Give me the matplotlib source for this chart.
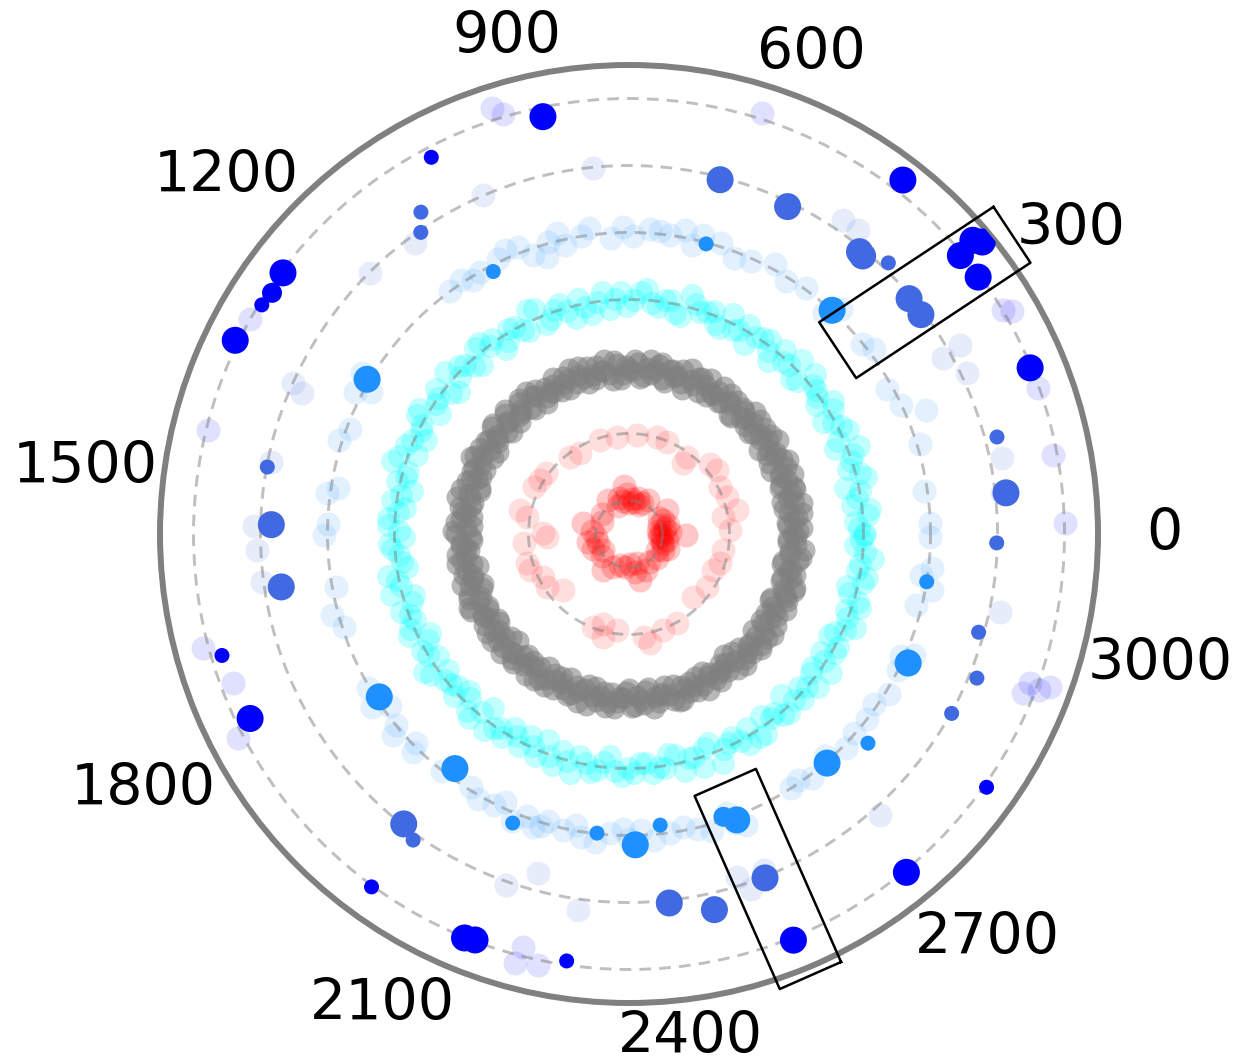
import matplotlib
matplotlib.use("Agg")
import matplotlib.pyplot as plt
import numpy as np

PERIOD = 3120  # length of the circular position axis
R_MAX = 7.0

tick_values = [0, 300, 600, 900, 1200, 1500, 1800, 2100, 2400, 2700, 3000]
ring_levels = [0.5, 1.5, 2.5, 3.5, 4.5, 5.5, 6.5]

# --- level 0.5 (red, inner) ---
red_inner_pos = [5, 25, 30, 55, 80, 110, 140, 190, 240, 285,
                 520, 580, 620, 660, 700, 740, 780, 800, 830, 870,
                 910, 960, 1050, 1250, 1350, 1443, 1520, 1600, 1660, 1700,
                 1760, 1830, 1900, 2030, 2120, 2200, 2280, 2360, 2420, 2457,
                 2480, 2560, 2650, 2760, 2860, 2905, 2940, 2980, 3010, 3040,
                 3070, 3095, 3112]
red_inner_r = [0.47, 0.62, 0.52, 0.44, 0.55, 0.60, 0.46, 0.55, 0.50, 0.67,
               0.58, 0.50, 0.45, 0.55, 0.48, 0.52, 0.47, 0.60, 0.72, 0.50,
               0.55, 0.45, 0.60, 0.50, 0.45, 0.70, 0.55, 0.50, 0.62, 0.48,
               0.58, 0.45, 0.52, 0.66, 0.55, 0.48, 0.50, 0.45, 0.58, 0.70,
               0.45, 0.60, 0.52, 0.55, 0.48, 0.56, 0.62, 0.53, 0.50, 0.58,
               0.45, 0.50, 0.85]

# --- level 1.5 (red, outer) ---
red_outer_pos = [20, 90, 109, 181, 238, 313, 356, 454, 462, 588,
                 642, 742, 842, 928, 1051, 1103, 1245, 1290, 1332, 1453,
                 1477, 1556, 1577, 1604, 1699, 1733, 1790, 1843, 1911, 2158,
                 2201, 2219, 2277, 2410, 2434, 2511, 2583, 2737, 2825, 2920,
                 2965, 3037]
red_outer_r = [1.51, 1.43, 1.65, 1.56, 1.53, 1.62, 1.60, 1.33, 1.44, 1.49,
               1.51, 1.48, 1.46, 1.47, 1.41, 1.45, 1.53, 1.55, 1.59, 1.67,
               1.55, 1.28, 1.22, 1.58, 1.59, 1.57, 1.43, 1.46, 1.29, 1.48,
               1.39, 1.58, 1.44, 1.55, 1.66, 1.52, 1.51, 1.34, 1.40, 1.37,
               1.43, 1.43]

# --- level 2.5 (gray), two passes around the circle ---
gray_pos = [0, 16, 35, 51, 69, 87, 103, 122, 139, 155,
            174, 191, 207, 226, 243, 259, 278, 295, 311, 330,
            347, 363, 382, 399, 415, 434, 451, 467, 486, 503,
            519, 538, 555, 571, 590, 607, 623, 642, 659, 675,
            694, 711, 727, 746, 763, 779, 798, 815, 831, 850,
            867, 883, 902, 919, 935, 954, 971, 987, 1006, 1023,
            1039, 1058, 1075, 1091, 1110, 1127, 1143, 1162, 1179, 1195,
            1214, 1231, 1247, 1266, 1283, 1299, 1318, 1335, 1351, 1370,
            1387, 1403, 1422, 1439, 1455, 1474, 1491, 1507, 1526, 1543,
            1559, 1578, 1595, 1611, 1630, 1647, 1663, 1682, 1699, 1715,
            1734, 1751, 1767, 1786, 1803, 1819, 1838, 1855, 1871, 1890,
            1907, 1923, 1942, 1959, 1975, 1994, 2011, 2027, 2046, 2063,
            2079, 2098, 2115, 2131, 2150, 2167, 2183, 2202, 2219, 2235,
            2254, 2271, 2287, 2306, 2323, 2339, 2358, 2375, 2391, 2410,
            2427, 2443, 2462, 2479, 2495, 2514, 2531, 2547, 2566, 2583,
            2599, 2618, 2635, 2651, 2670, 2687, 2703, 2722, 2739, 2755,
            2774, 2791, 2807, 2826, 2843, 2859, 2878, 2895, 2911, 2930,
            2947, 2963, 2982, 2999, 3015, 3034, 3051, 3067, 3086, 3103]
gray_r = [2.45, 2.58, 2.36, 2.52, 2.41, 2.62, 2.33, 2.49, 2.56, 2.39,
          2.60, 2.44, 2.31, 2.54, 2.47, 2.37, 2.63, 2.50, 2.42, 2.57,
          2.34, 2.48, 2.61, 2.40, 2.53, 2.32, 2.46, 2.59, 2.38, 2.51,
          2.43, 2.62, 2.35, 2.55, 2.48, 2.30, 2.58, 2.44, 2.52, 2.37,
          2.56, 2.41, 2.49, 2.33, 2.60, 2.46, 2.39, 2.54, 2.31, 2.63,
          2.47, 2.36, 2.57, 2.43, 2.50, 2.62, 2.34, 2.45, 2.59, 2.40,
          2.52, 2.31, 2.48, 2.61, 2.38, 2.55, 2.42, 2.33, 2.58, 2.46,
          2.37, 2.60, 2.44, 2.51, 2.30, 2.57, 2.49, 2.63, 2.35, 2.53,
          2.41, 2.55, 2.32, 2.47, 2.62, 2.39, 2.50, 2.36, 2.59, 2.44,
          2.58, 2.34, 2.52, 2.40, 2.46, 2.61, 2.31, 2.54, 2.43, 2.49,
          2.33, 2.57, 2.45, 2.62, 2.38, 2.50, 2.56, 2.35, 2.48, 2.60,
          2.42, 2.53, 2.30, 2.47, 2.59, 2.36, 2.44, 2.61, 2.39, 2.55,
          2.50, 2.37, 2.58, 2.43, 2.32, 2.54, 2.47, 2.40, 2.63, 2.34,
          2.46, 2.60, 2.39, 2.52, 2.45, 2.31, 2.57, 2.49, 2.36, 2.62,
          2.54, 2.42, 2.48, 2.35, 2.61, 2.44, 2.38, 2.56, 2.51, 2.33,
          2.40, 2.59, 2.45, 2.53, 2.30, 2.47, 2.62, 2.37, 2.55, 2.43,
          2.57, 2.34, 2.50, 2.41, 2.58, 2.36, 2.46, 2.60, 2.32, 2.52,
          2.44, 2.61, 2.38, 2.55, 2.48, 2.33, 2.59, 2.42, 2.50, 2.37]
gray_pos_b = [8, 26, 43, 60, 78, 95, 112, 130, 147, 164,
              182, 199, 216, 234, 251, 268, 286, 303, 320, 338,
              355, 372, 390, 407, 424, 442, 459, 476, 494, 511,
              528, 546, 563, 580, 598, 615, 632, 650, 667, 684,
              702, 719, 736, 754, 771, 788, 806, 823, 840, 858,
              875, 892, 910, 927, 944, 962, 979, 996, 1014, 1031,
              1048, 1066, 1083, 1100, 1118, 1135, 1152, 1170, 1187, 1204,
              1222, 1239, 1256, 1274, 1291, 1308, 1326, 1343, 1360, 1378,
              1395, 1412, 1430, 1447, 1464, 1482, 1499, 1516, 1534, 1551,
              1568, 1586, 1603, 1620, 1638, 1655, 1672, 1690, 1707, 1724,
              1742, 1759, 1776, 1794, 1811, 1828, 1846, 1863, 1880, 1898,
              1915, 1932, 1950, 1967, 1984, 2002, 2019, 2036, 2054, 2071,
              2088, 2106, 2123, 2140, 2158, 2175, 2192, 2210, 2227, 2244,
              2262, 2279, 2296, 2314, 2331, 2348, 2366, 2383, 2400, 2418,
              2435, 2452, 2470, 2487, 2504, 2522, 2539, 2556, 2574, 2591,
              2608, 2626, 2643, 2660, 2678, 2695, 2712, 2730, 2747, 2764,
              2782, 2799, 2816, 2834, 2851, 2868, 2886, 2903, 2920, 2938,
              2955, 2972, 2990, 3007, 3024, 3042, 3059, 3076, 3094, 3111]
gray_r_b = [2.53, 2.38, 2.47, 2.60, 2.34, 2.51, 2.43, 2.57, 2.36, 2.49,
            2.41, 2.55, 2.62, 2.35, 2.50, 2.44, 2.31, 2.58, 2.46, 2.39,
            2.59, 2.37, 2.45, 2.52, 2.31, 2.56, 2.48, 2.40, 2.61, 2.43,
            2.35, 2.50, 2.57, 2.42, 2.63, 2.39, 2.46, 2.53, 2.33, 2.60,
            2.48, 2.62, 2.37, 2.55, 2.44, 2.51, 2.32, 2.59, 2.41, 2.47,
            2.56, 2.43, 2.33, 2.61, 2.39, 2.48, 2.54, 2.36, 2.50, 2.42,
            2.38, 2.57, 2.52, 2.34, 2.60, 2.45, 2.40, 2.62, 2.47, 2.31,
            2.61, 2.46, 2.39, 2.55, 2.42, 2.33, 2.58, 2.44, 2.51, 2.36,
            2.49, 2.32, 2.60, 2.43, 2.37, 2.56, 2.45, 2.52, 2.34, 2.62,
            2.36, 2.51, 2.44, 2.59, 2.53, 2.38, 2.48, 2.41, 2.61, 2.30,
            2.55, 2.40, 2.63, 2.37, 2.49, 2.44, 2.33, 2.58, 2.42, 2.51,
            2.34, 2.61, 2.49, 2.56, 2.41, 2.52, 2.38, 2.45, 2.59, 2.32,
            2.60, 2.44, 2.35, 2.51, 2.57, 2.40, 2.62, 2.33, 2.48, 2.54,
            2.39, 2.53, 2.61, 2.44, 2.36, 2.58, 2.42, 2.55, 2.31, 2.47,
            2.45, 2.33, 2.57, 2.60, 2.40, 2.52, 2.47, 2.35, 2.62, 2.43,
            2.52, 2.47, 2.36, 2.41, 2.59, 2.34, 2.55, 2.50, 2.44, 2.61,
            2.43, 2.58, 2.62, 2.35, 2.46, 2.53, 2.39, 2.32, 2.57, 2.48,
            2.60, 2.37, 2.51, 2.44, 2.33, 2.56, 2.42, 2.62, 2.38, 2.49]

# --- level 3.5 (cyan), two passes around the circle ---
cyan_pos = [0, 27, 51, 78, 104, 129, 157, 182, 208, 235,
            260, 287, 313, 338, 366, 391, 417, 444, 469, 496,
            522, 547, 575, 600, 626, 653, 678, 705, 731, 756,
            784, 809, 835, 862, 887, 914, 940, 965, 993, 1018,
            1044, 1071, 1096, 1123, 1149, 1174, 1202, 1227, 1253, 1280,
            1305, 1332, 1358, 1383, 1411, 1436, 1462, 1489, 1514, 1541,
            1567, 1592, 1620, 1645, 1671, 1698, 1723, 1750, 1776, 1801,
            1829, 1854, 1880, 1907, 1932, 1959, 1985, 2010, 2038, 2063,
            2089, 2116, 2141, 2168, 2194, 2219, 2247, 2272, 2298, 2325,
            2350, 2377, 2403, 2428, 2456, 2481, 2507, 2534, 2559, 2586,
            2612, 2637, 2665, 2690, 2716, 2743, 2768, 2795, 2821, 2846,
            2874, 2899, 2925, 2952, 2977, 3004, 3030, 3055, 3083, 3108]
cyan_r = [3.52, 3.38, 3.61, 3.45, 3.30, 3.57, 3.49, 3.68, 3.41, 3.55,
          3.34, 3.63, 3.47, 3.53, 3.39, 3.66, 3.44, 3.31, 3.58, 3.50,
          3.60, 3.42, 3.35, 3.56, 3.48, 3.69, 3.37, 3.54, 3.46, 3.62,
          3.40, 3.51, 3.64, 3.33, 3.59, 3.45, 3.52, 3.36, 3.67, 3.43,
          3.55, 3.32, 3.48, 3.61, 3.41, 3.57, 3.66, 3.39, 3.50, 3.34,
          3.63, 3.46, 3.53, 3.38, 3.70, 3.44, 3.31, 3.58, 3.47, 3.60,
          3.36, 3.54, 3.42, 3.65, 3.49, 3.33, 3.59, 3.45, 3.62, 3.40,
          3.51, 3.68, 3.37, 3.47, 3.56, 3.41, 3.64, 3.30, 3.53, 3.58,
          3.44, 3.35, 3.60, 3.52, 3.39, 3.67, 3.48, 3.55, 3.32, 3.61,
          3.57, 3.43, 3.50, 3.34, 3.63, 3.46, 3.38, 3.69, 3.45, 3.52,
          3.39, 3.62, 3.47, 3.55, 3.31, 3.58, 3.50, 3.42, 3.66, 3.36,
          3.54, 3.40, 3.65, 3.44, 3.57, 3.35, 3.61, 3.48, 3.53, 3.46]
cyan_pos_b = [13, 40, 65, 91, 117, 143, 170, 195, 221, 248,
              273, 300, 326, 352, 378, 404, 430, 457, 482, 509,
              535, 561, 588, 613, 639, 666, 691, 718, 744, 770,
              797, 822, 848, 875, 900, 927, 953, 979, 1006, 1031,
              1057, 1084, 1110, 1136, 1162, 1188, 1215, 1240, 1266, 1293,
              1318, 1345, 1371, 1397, 1424, 1449, 1475, 1502, 1527, 1554,
              1580, 1606, 1633, 1658, 1684, 1711, 1736, 1763, 1789, 1815,
              1842, 1867, 1893, 1920, 1945, 1972, 1998, 2024, 2051, 2076,
              2102, 2129, 2154, 2181, 2207, 2233, 2260, 2285, 2311, 2338,
              2363, 2390, 2416, 2442, 2469, 2494, 2520, 2547, 2572, 2599,
              2625, 2651, 2678, 2703, 2729, 2756, 2781, 2808, 2834, 2860,
              2887, 2912, 2938, 2965, 2990, 3017, 3043, 3069, 3096, 3118]
cyan_r_b = [3.44, 3.58, 3.36, 3.50, 3.64, 3.41, 3.55, 3.33, 3.62, 3.47,
            3.57, 3.40, 3.52, 3.66, 3.35, 3.48, 3.60, 3.43, 3.54, 3.31,
            3.46, 3.63, 3.39, 3.51, 3.58, 3.34, 3.55, 3.42, 3.67, 3.49,
            3.61, 3.37, 3.50, 3.45, 3.32, 3.59, 3.41, 3.64, 3.38, 3.53,
            3.40, 3.56, 3.63, 3.35, 3.52, 3.44, 3.31, 3.60, 3.47, 3.65,
            3.49, 3.33, 3.58, 3.62, 3.42, 3.55, 3.46, 3.37, 3.61, 3.43,
            3.59, 3.45, 3.35, 3.53, 3.66, 3.40, 3.48, 3.57, 3.32, 3.54,
            3.38, 3.62, 3.50, 3.41, 3.34, 3.58, 3.45, 3.63, 3.47, 3.36,
            3.56, 3.48, 3.31, 3.64, 3.52, 3.39, 3.60, 3.43, 3.55, 3.49,
            3.42, 3.59, 3.53, 3.37, 3.46, 3.65, 3.33, 3.51, 3.40, 3.62,
            3.61, 3.36, 3.44, 3.58, 3.50, 3.41, 3.63, 3.38, 3.47, 3.55,
            3.35, 3.53, 3.49, 3.62, 3.40, 3.57, 3.44, 3.66, 3.37, 3.51]

# --- level 4.5 (dodgerblue) ---
dodger_bg_pos = [18, 72, 148, 196, 220, 255, 321, 340, 405, 420,
                 470, 504, 534, 571, 628, 660, 674, 712, 746, 774,
                 790, 860, 888, 896, 923, 963, 1000, 1037, 1053, 1095,
                 1290, 1310, 1323, 1382, 1404, 1482, 1493, 1543, 1562, 1648,
                 1692, 1716, 1825, 1855, 1870, 1901, 1910, 1946, 1953, 2008,
                 2063, 2082, 2148, 2168, 2182, 2203, 2231, 2262, 2309, 2340,
                 2360, 2408, 2453, 2508, 2515, 2530, 2622, 2639, 2700, 2733,
                 2791, 2819, 2846, 2887, 2910, 2920, 2999, 3030, 3050, 3064,
                 600, 690, 730, 810, 845, 915, 945, 985, 1070, 2110,
                 2125, 2195, 2250, 2285, 2330, 2380, 2430, 2475, 2660, 2760,
                 3115]
dodger_bg_r = [4.50, 4.45, 4.55, 4.80, 4.50, 4.42, 4.58, 4.48, 4.62, 4.40,
               4.52, 4.45, 4.58, 4.47, 4.55, 4.60, 4.42, 4.50, 4.56, 4.45,
               4.58, 4.50, 4.42, 4.62, 4.31, 4.59, 4.55, 4.50, 4.45, 4.50,
               4.65, 4.40, 4.60, 4.45, 4.55, 4.40, 4.55, 4.50, 4.55, 4.45,
               4.60, 4.48, 4.52, 4.62, 4.40, 4.50, 4.62, 4.45, 4.58, 4.50,
               4.45, 4.55, 4.62, 4.48, 4.60, 4.45, 4.52, 4.58, 4.47, 4.55,
               4.42, 4.50, 4.52, 4.42, 4.60, 4.68, 4.50, 4.45, 4.42, 4.55,
               4.50, 4.45, 4.55, 4.50, 4.45, 4.62, 4.42, 4.60, 4.40, 4.55,
               4.40, 4.62, 4.55, 4.42, 4.60, 4.52, 4.40, 4.62, 4.55, 4.52,
               4.40, 4.55, 4.42, 4.62, 4.40, 4.58, 4.45, 4.60, 4.55, 4.48,
               4.50]
dodger_pos = [414, 651, 1017, 1295, 1847, 2023, 2150, 2287, 2350, 2393,
              2500, 2519, 2694, 2763, 2905, 3041]
dodger_r = [4.51, 4.48, 4.41, 4.54, 4.45, 4.36, 4.65, 4.49, 4.64, 4.37,
            4.45, 4.56, 4.52, 4.74, 4.59, 4.50]
dodger_w = [3, 1, 1, 3, 3, 3, 1, 1, 3, 1,
            2, 3, 3, 1, 3, 1]

# --- level 5.5 (royalblue) ---
royal_bg_pos = [54, 100, 221, 254, 257, 459, 483, 829, 982, 1095,
                1168, 1350, 1358, 1461, 1550, 1582, 1625, 2173, 2210, 2273,
                2491, 2505, 2530, 2702, 3017]
royal_bg_r = [5.60, 5.68, 5.59, 5.37, 5.69, 5.68, 5.67, 5.49, 5.51, 5.39,
              5.49, 5.50, 5.31, 5.45, 5.60, 5.56, 5.52, 5.55, 5.24, 5.66,
              5.37, 5.60, 5.40, 5.62, 5.66]
royal_pos = [54, 128, 320, 347, 401, 433, 440, 556, 655, 1065,
             1080, 1469, 1547, 1635, 2012, 2035, 2394, 2451, 2527, 2868,
             2925, 2984, 3108]
royal_r = [5.66, 5.68, 5.45, 5.46, 5.60, 5.42, 5.44, 5.43, 5.46, 5.72,
           5.47, 5.49, 5.34, 5.25, 5.48, 5.59, 5.54, 5.75, 5.52, 5.51,
           5.62, 5.42, 5.49]
royal_w = [3, 1, 3, 3, 1, 3, 3, 3, 3, 1,
           1, 1, 3, 3, 3, 1, 3, 3, 3, 1,
           1, 1, 1]

# --- level 6.5 (blue) ---
blue_bg_pos = [12, 91, 170, 262, 268, 628, 925, 934, 1304, 1440,
               1690, 1739, 1799, 2211, 2215, 2237, 2929, 2940, 2943, 2947]
blue_bg_r = [6.51, 6.44, 6.48, 6.62, 6.50, 6.59, 6.55, 6.68, 6.50, 6.47,
             6.58, 6.32, 6.58, 6.62, 6.36, 6.57, 6.34, 6.55, 6.39, 6.69]
blue_pos = [195, 315, 343, 347, 351, 453, 881, 1020, 1239, 1265,
            1283, 1333, 1704, 1785, 2027, 2148, 2160, 2268, 2531, 2681,
            2814]
blue_r = [6.48, 6.47, 6.84, 6.46, 6.75, 6.68, 6.36, 6.35, 6.47, 6.43,
          6.46, 6.55, 6.34, 6.29, 6.52, 6.51, 6.48, 6.44, 6.54, 6.53,
          6.54]
blue_w = [3, 3, 3, 3, 3, 3, 3, 1, 3, 2,
          1, 3, 1, 3, 1, 3, 3, 1, 3, 3,
          1]

# highlighted regions: centre position, centre radius, length, width, tilt (deg)
highlight_boxes = [(340, 5.70, 3.12, 1.0, 33.5),
                   (2530, 5.55, 3.15, 1.0, -66.2)]

# radius at which each theta label sits (labels fan out a bit sideways)
label_r = [7.99, 8.01, 7.67, 7.63, 8.04, 8.18, 8.19, 7.93, 7.57, 8.06, 8.16]


def to_theta(pos):
    return 2 * np.pi * np.asarray(pos, dtype=float) / PERIOD


def pt2(px):
    # marker diameter in pixels -> scatter size in points^2 (dpi 100)
    return (px * 72.0 / 100.0) ** 2


size_px = {1: 15, 2: 20, 3: 27}

fig = plt.figure(figsize=(12.42, 10.64), dpi=100)
ax = fig.add_axes([160 / 1242, 61 / 1064, 938 / 1242, 938 / 1064],
                  projection="polar")

# background rings
ax.scatter(to_theta(red_outer_pos), red_outer_r, s=pt2(24), c="red",
           alpha=0.13, linewidths=0, zorder=1)
ax.scatter(to_theta(red_inner_pos), red_inner_r, s=pt2(24), c="red",
           alpha=0.22, linewidths=0, zorder=1)
ax.scatter(to_theta(gray_pos + gray_pos_b), gray_r + gray_r_b, s=pt2(22),
           c="gray", alpha=0.56, linewidths=0, zorder=1)
ax.scatter(to_theta(cyan_pos + cyan_pos_b), cyan_r + cyan_r_b, s=pt2(23),
           c="cyan", alpha=0.24, linewidths=0, zorder=1)
ax.scatter(to_theta(dodger_bg_pos), dodger_bg_r, s=pt2(24), c="dodgerblue",
           alpha=0.12, linewidths=0, zorder=1)
ax.scatter(to_theta(royal_bg_pos), royal_bg_r, s=pt2(24), c="royalblue",
           alpha=0.12, linewidths=0, zorder=1)
ax.scatter(to_theta(blue_bg_pos), blue_bg_r, s=pt2(24), c="blue",
           alpha=0.12, linewidths=0, zorder=1)

# solid hits
for pos, rr, w, col in [(dodger_pos, dodger_r, dodger_w, "dodgerblue"),
                        (royal_pos, royal_r, royal_w, "royalblue"),
                        (blue_pos, blue_r, blue_w, "blue")]:
    ax.scatter(to_theta(pos), rr, s=[pt2(size_px[k]) for k in w], c=col,
               linewidths=0, zorder=3)

# highlight boxes (straight-edged, drawn through data coords)
for pos, rc, length, width, tilt in highlight_boxes:
    t = to_theta(pos)
    c = np.array([rc * np.cos(t), rc * np.sin(t)])
    a = np.deg2rad(tilt)
    u = np.array([np.cos(a), np.sin(a)]) * length / 2
    v = np.array([-np.sin(a), np.cos(a)]) * width / 2
    pts = np.array([c + u + v, c - u + v, c - u - v, c + u - v, c + u + v])
    ax.plot(np.arctan2(pts[:, 1], pts[:, 0]), np.hypot(pts[:, 0], pts[:, 1]),
            color="black", lw=1.8, clip_on=False, zorder=5)

ax.set_ylim(0, R_MAX)
ax.set_yticks(ring_levels)
ax.set_yticklabels([])
ax.yaxis.grid(True, linestyle=(0, (4.0, 2.8)), color="gray", alpha=0.5,
              linewidth=2.1)
ax.set_xticks(to_theta(tick_values))
ax.set_xticklabels([])
ax.xaxis.grid(False)
ax.tick_params(axis="x", length=0)
ax.spines["polar"].set_color("gray")
ax.spines["polar"].set_linewidth(4.3)

for v, rl in zip(tick_values, label_r):
    ax.text(to_theta(v), rl, str(v), ha="center", va="center",
            fontsize=41, color="black")

fig.savefig("out.png", dpi=100)
